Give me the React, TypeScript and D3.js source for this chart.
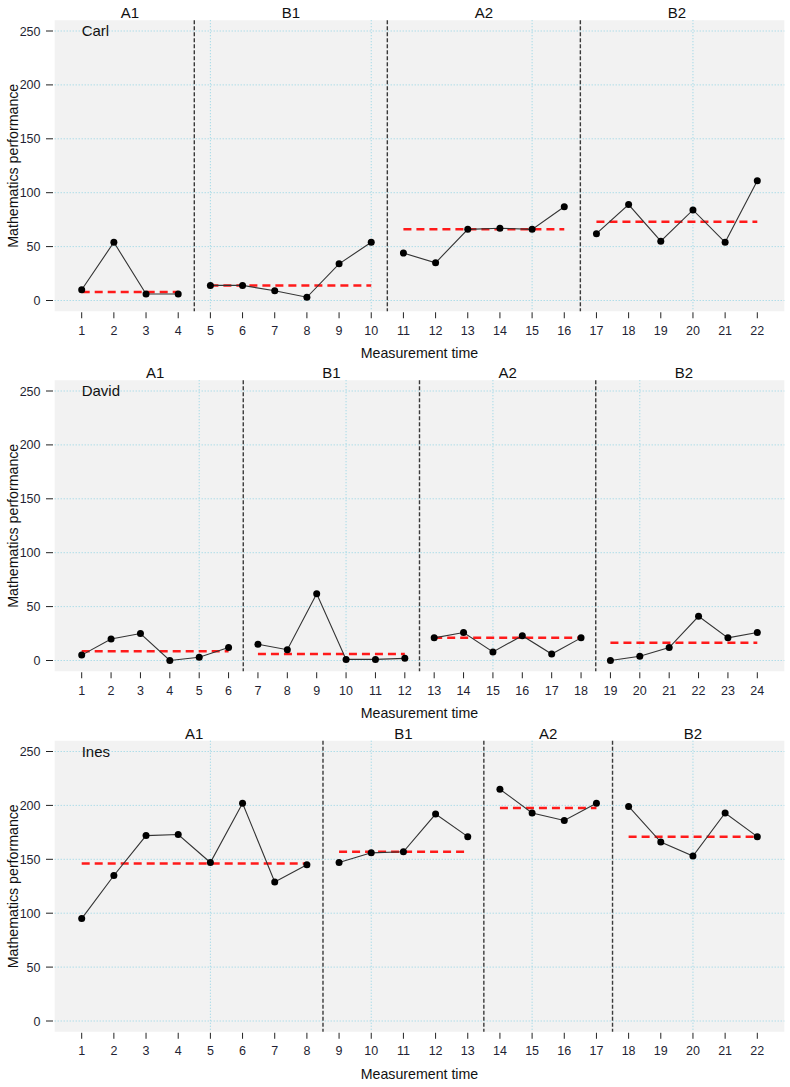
import React from "react";
import * as d3 from "d3";

// ---- Data ----
const participants = ["Carl", "David", "Ines"];
const phaseNames = ["A1", "B1", "A2", "B2"];

// phase lengths per participant
const carlPhaseLengths = [4, 6, 6, 6];
const davidPhaseLengths = [6, 6, 6, 6];
const inesPhaseLengths = [8, 5, 4, 5];

const carlValues = [10, 54, 6, 6, 14, 14, 9, 3, 34, 54, 44, 35, 66, 67, 66, 87, 62, 89, 55, 84, 54, 111];
const davidValues = [5, 20, 25, 0, 3, 12, 15, 10, 62, 1, 1, 2, 21, 26, 8, 23, 6, 21, 0, 4, 12, 41, 21, 26];
const inesValues = [95, 135, 172, 173, 147, 202, 129, 145, 147, 156, 157, 192, 171, 215, 193, 186, 202, 199, 166, 153, 193, 171];

const yTicks = [0, 50, 100, 150, 200, 250];
const xGridTicks = [5, 10, 15, 20];

const panelData = [
  { name: participants[0], values: carlValues, lengths: carlPhaseLengths },
  { name: participants[1], values: davidValues, lengths: davidPhaseLengths },
  { name: participants[2], values: inesValues, lengths: inesPhaseLengths },
];

const W = 790;
const H = 1087;
const panelOffsets = [0, 360, 720.5];
const FONT = "Arial, 'Liberation Sans', Helvetica, sans-serif";
const GRID = "#8fd3e4";
const TXT = "#1f1f33";

function Panel({ d, offset }: { d: typeof panelData[0]; offset: number }) {
  const n = d.values.length;
  const x = d3.scaleLinear().domain([1, n]).range([81.7, 757.3]);
  const y = d3.scaleLinear().domain([0, 250]).range([300.5, 31]);
  const pad = 0.04 * (n - 1);
  const x0 = x(1 - pad);
  const x1 = x(n + pad);
  const yTop = y(260);
  const yBot = y(-10);

  const pts = d.values.map((v, i) => ({ t: i + 1, v }));
  const phases: { name: string; start: number; end: number; vals: number[] }[] = [];
  let s = 1;
  d.lengths.forEach((len, i) => {
    phases.push({
      name: phaseNames[i],
      start: s,
      end: s + len - 1,
      vals: d.values.slice(s - 1, s - 1 + len),
    });
    s += len;
  });
  const line = d3
    .line<{ t: number; v: number }>()
    .x((p) => x(p.t))
    .y((p) => y(p.v));

  return (
    <g transform={`translate(0,${offset})`}>
      <rect x={x0} y={yTop} width={x1 - x0} height={yBot - yTop} fill="#f2f2f2" />
      {yTicks.map((t) => (
        <line key={"gy" + t} x1={x0} x2={x1} y1={y(t)} y2={y(t)} stroke={GRID} strokeWidth={1} strokeDasharray="1,2" />
      ))}
      {xGridTicks
        .filter((t) => t <= n)
        .map((t) => (
          <line key={"gx" + t} x1={x(t)} x2={x(t)} y1={yTop} y2={yBot} stroke={GRID} strokeWidth={1} strokeDasharray="1,2" />
        ))}
      {phases.slice(0, -1).map((p) => (
        <line
          key={"div" + p.name}
          x1={x(p.end + 0.5)}
          x2={x(p.end + 0.5)}
          y1={yTop}
          y2={yBot}
          stroke="#3a3a3a"
          strokeWidth={1.4}
          strokeDasharray="4,2"
        />
      ))}
      {phases.map((p) => (
        <text
          key={"pl" + p.name}
          x={x((p.start + p.end) / 2)}
          y={18}
          textAnchor="middle"
          fontSize={15}
          fill="#111"
          fontFamily={FONT}
        >
          {p.name}
        </text>
      ))}
      {phases.map((p) => {
        const m = d3.median(p.vals) as number;
        return (
          <line
            key={"md" + p.name}
            x1={x(p.start)}
            x2={x(p.end)}
            y1={y(m)}
            y2={y(m)}
            stroke="#ff1a1a"
            strokeWidth={2.5}
            strokeDasharray="8,5"
          />
        );
      })}
      {phases.map((p) => (
        <path
          key={"ln" + p.name}
          d={line(pts.slice(p.start - 1, p.end)) || ""}
          fill="none"
          stroke="#333"
          strokeWidth={1.1}
        />
      ))}
      {pts.map((p) => (
        <circle key={"pt" + p.t} cx={x(p.t)} cy={y(p.v)} r={3.5} fill="#000" />
      ))}
      <text x={x(1)} y={y(250) + 5} fontSize={15} fill="#111" fontFamily={FONT}>
        {d.name}
      </text>
      {yTicks.map((t) => (
        <g key={"yt" + t}>
          <line x1={46} x2={53} y1={y(t)} y2={y(t)} stroke="#222" strokeWidth={1} />
          <text x={40.5} y={y(t) + 4.5} textAnchor="end" fontSize={12.5} fill={TXT} fontFamily={FONT}>
            {t}
          </text>
        </g>
      ))}
      {pts.map((p) => (
        <g key={"xt" + p.t}>
          <line x1={x(p.t)} x2={x(p.t)} y1={yBot + 1} y2={yBot + 7} stroke="#222" strokeWidth={1} />
          <text x={x(p.t)} y={334.5} textAnchor="middle" fontSize={12.5} fill={TXT} fontFamily={FONT}>
            {p.t}
          </text>
        </g>
      ))}
      <text x={(x0 + x1) / 2} y={358} textAnchor="middle" fontSize={14.2} fill="#111" fontFamily={FONT}>
        Measurement time
      </text>
      <text
        transform={`translate(18,${(yTop + yBot) / 2}) rotate(-90)`}
        textAnchor="middle"
        fontSize={14.2}
        fill="#111"
        fontFamily={FONT}
      >
        Mathematics performance
      </text>
    </g>
  );
}

export default function App() {
  return (
    <svg width={W} height={H} style={{ position: "absolute", left: 0, top: 0, background: "#fff" }}>
      <rect x={0} y={0} width={W} height={H} fill="#fff" />
      {panelData.map((d, i) => (
        <Panel key={d.name} d={d} offset={panelOffsets[i]} />
      ))}
    </svg>
  );
}
